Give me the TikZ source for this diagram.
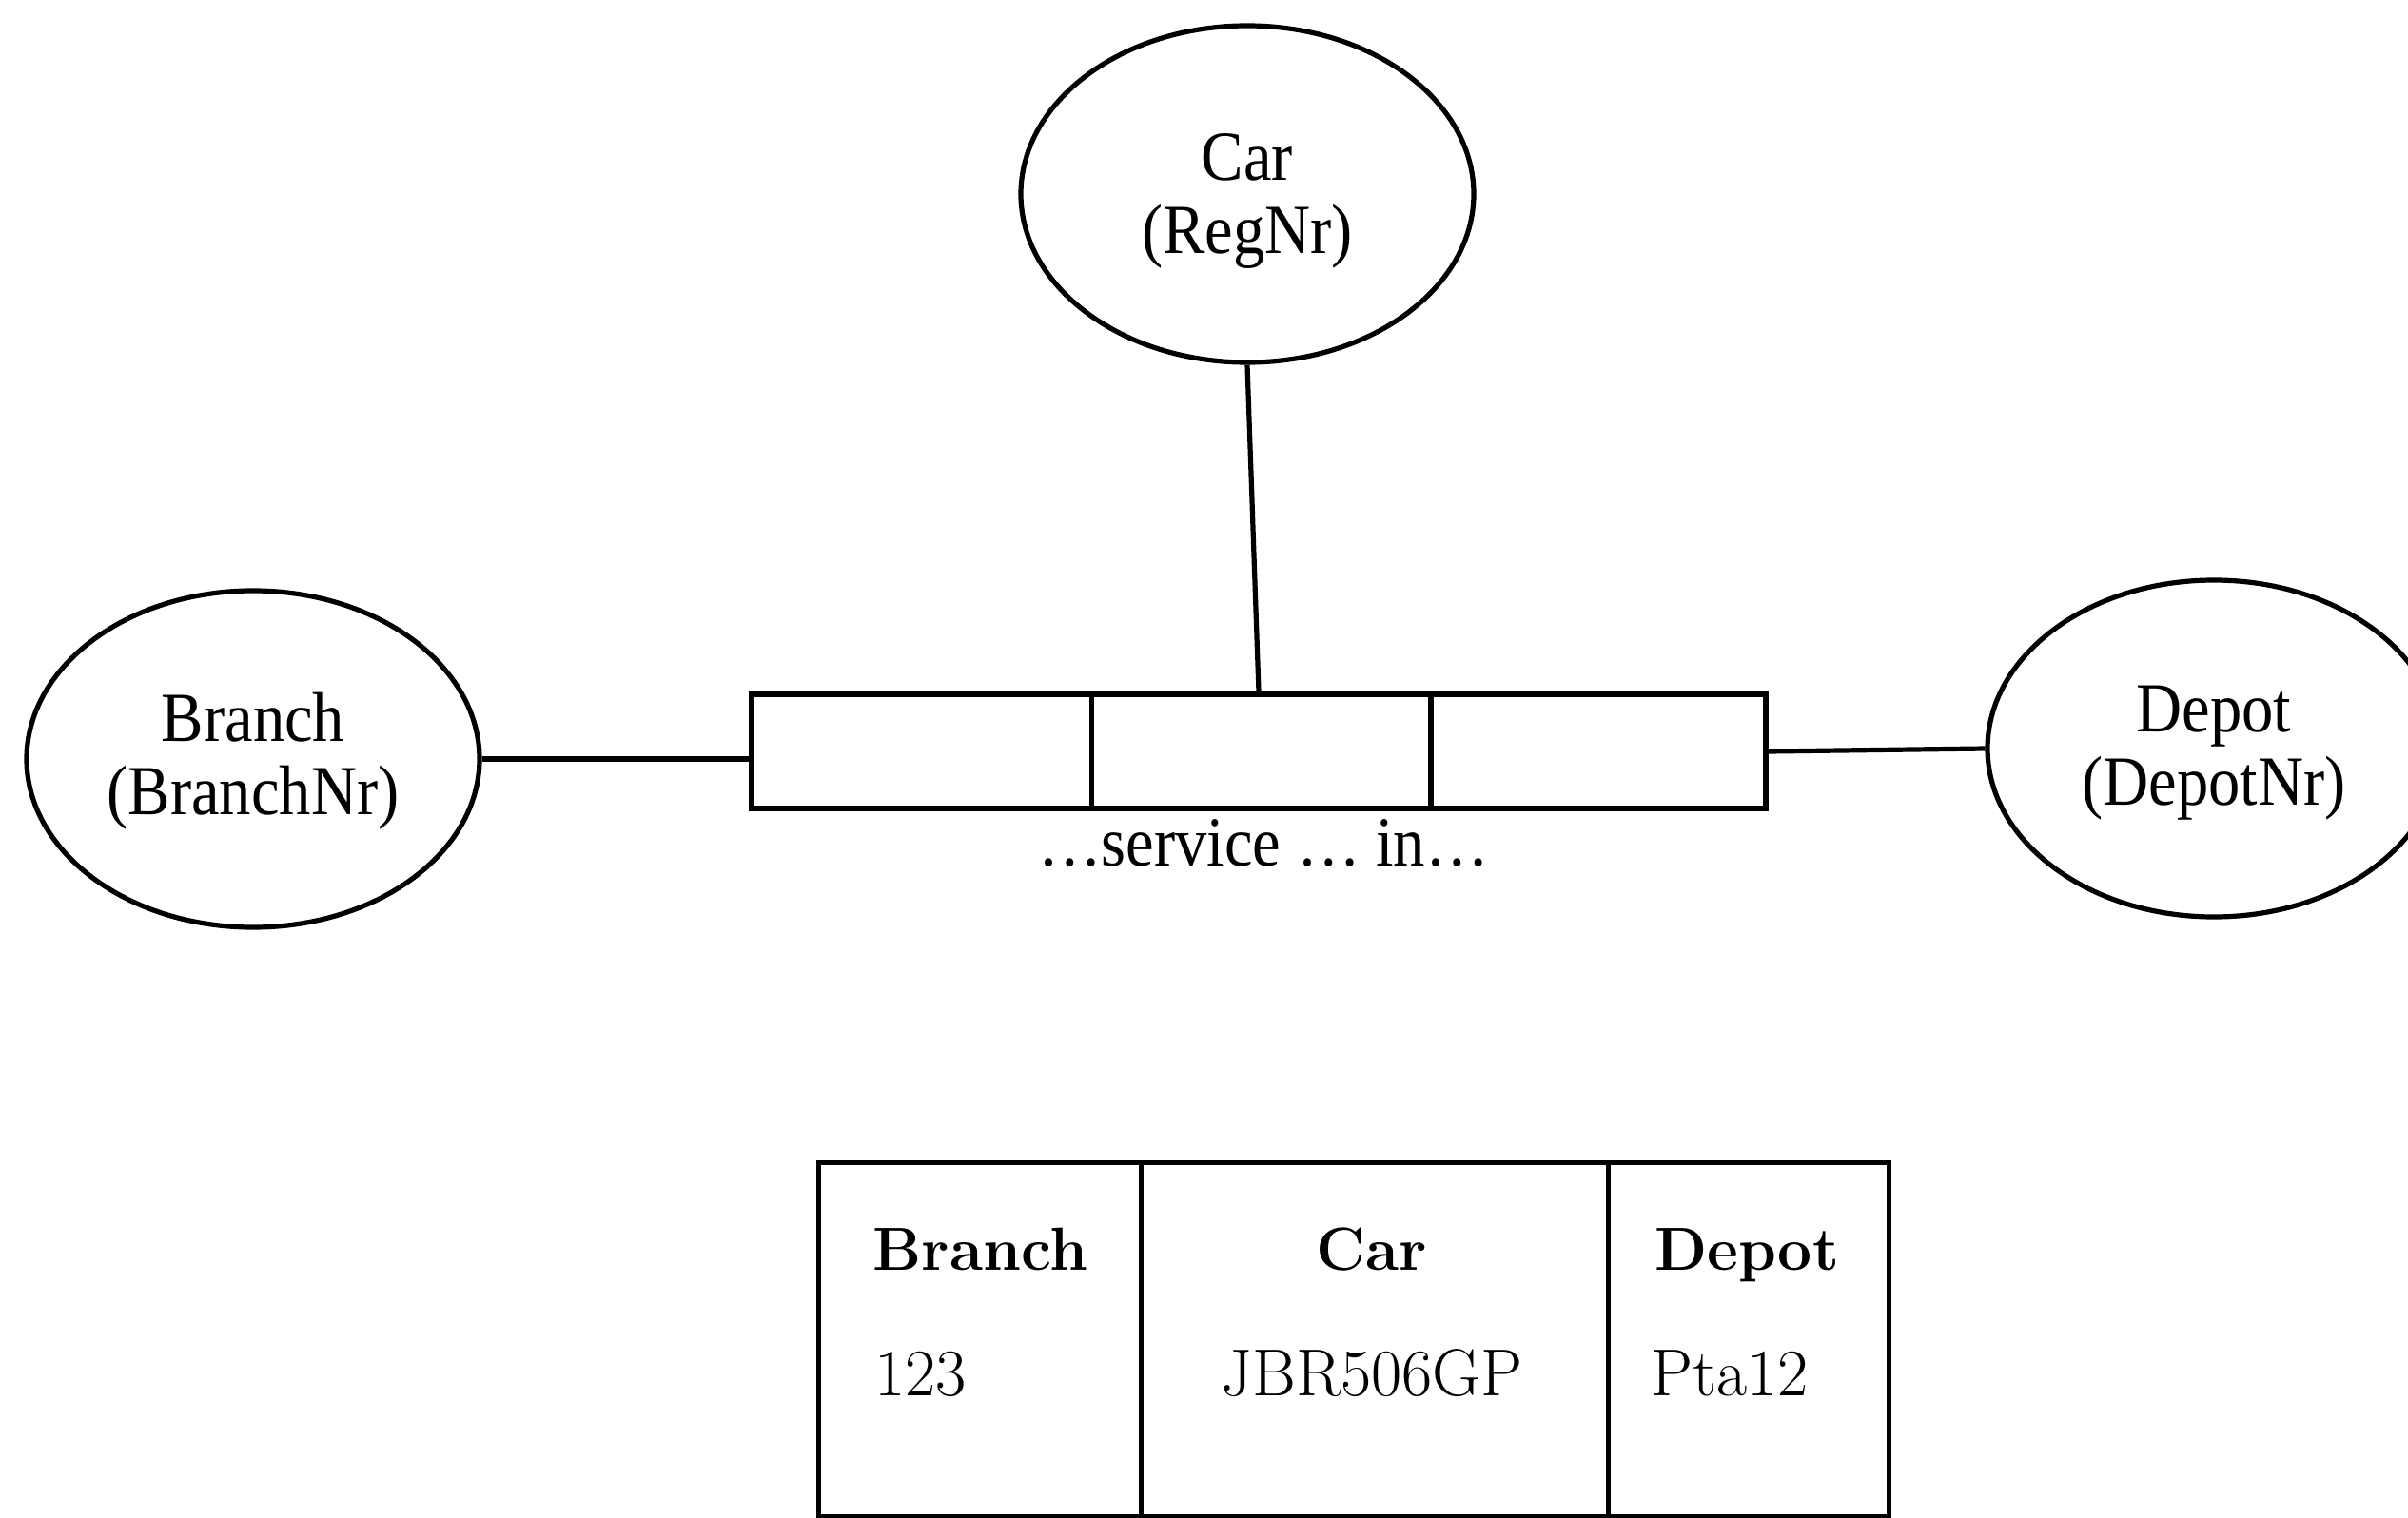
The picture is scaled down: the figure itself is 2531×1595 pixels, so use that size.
\documentclass[tikz,border=0pt]{standalone}
\usepackage{fontspec}
\newfontfamily\erfont[FakeStretch=0.9]{Liberation Serif}
\usetikzlibrary{shapes.geometric,calc}
\begin{document}
\begin{tikzpicture}[x=0.5pt,y=-0.5pt,line width=2.6pt,
  entity/.style={ellipse,draw,minimum width=238pt,minimum height=177pt,inner sep=0pt},
  relbox/.style={draw,minimum width=533pt,minimum height=60pt,inner sep=0pt},
  tablebox/.style={draw,minimum width=562.5pt,minimum height=186pt,inner sep=0pt},
  erlabel/.style={inner sep=0pt,align=center,font=\erfont\fontsize{37}{38.5}\selectfont},
  cell/.style={inner sep=0pt,font=\fontsize{35}{40}\selectfont},
  headcell/.style={cell,font=\fontsize{32}{40}\selectfont\bfseries}]
\useasboundingbox (0,0) rectangle (2531,1595);
% entities
\node[entity] (car) at (1311,204) {};
\node[entity] (branch) at (266,798) {};
\node[entity] (depot) at (2327,787) {};
\node[erlabel] (cartext) at ($(car.center)+(0,7)$) {Car\\(RegNr)};
\node[erlabel] (branchtext) at ($(branch.center)+(0,2)$) {Branch\\(BranchNr)};
\node[erlabel] (depottext) at ($(depot.center)+(0,5)$) {Depot\\(DepotNr)};
% relationship
\node[relbox] (rel) at (1323,790) {};
\coordinate (r1t) at ($(rel.north west)!0.336!(rel.north east)$);
\coordinate (r1b) at ($(rel.south west)!0.336!(rel.south east)$);
\coordinate (r2t) at ($(rel.north west)!0.669!(rel.north east)$);
\coordinate (r2b) at ($(rel.south west)!0.669!(rel.south east)$);
\draw (r1t) -- (r1b);
\draw (r2t) -- (r2b);
\node[erlabel,anchor=base] (lbl) at (1328,910) {…service … in…};
% connectors
\draw (branch.east) -- (branch.east -| rel.west);
\draw (rel.east) -- (depot.west);
\draw (car.south) -- (rel.north);
% table
\node[tablebox,anchor=north west] (tbl) at (858,1220) {};
\coordinate (t1t) at ($(tbl.north west)!0.3022!(tbl.north east)$);
\coordinate (t1b) at ($(tbl.south west)!0.3022!(tbl.south east)$);
\coordinate (t2t) at ($(tbl.north west)!0.7369!(tbl.north east)$);
\coordinate (t2b) at ($(tbl.south west)!0.7369!(tbl.south east)$);
\draw (t1t) -- (t1b);
\draw (t2t) -- (t2b);
\node[headcell,anchor=base west] (hbranch) at (915,1335) {Branch};
\node[headcell,anchor=base] (hcar) at (1442,1335) {Car};
\node[headcell,anchor=base] (hdepot) at (1836,1335) {Depot};
\node[cell,anchor=base west] (dbranch) at (917,1467) {123};
\node[cell,anchor=base] (dcar) at (1442,1467) {JBR506GP};
\node[cell,anchor=base west] (ddepot) at (1733,1467) {Pta12};
\end{tikzpicture}
\end{document}
